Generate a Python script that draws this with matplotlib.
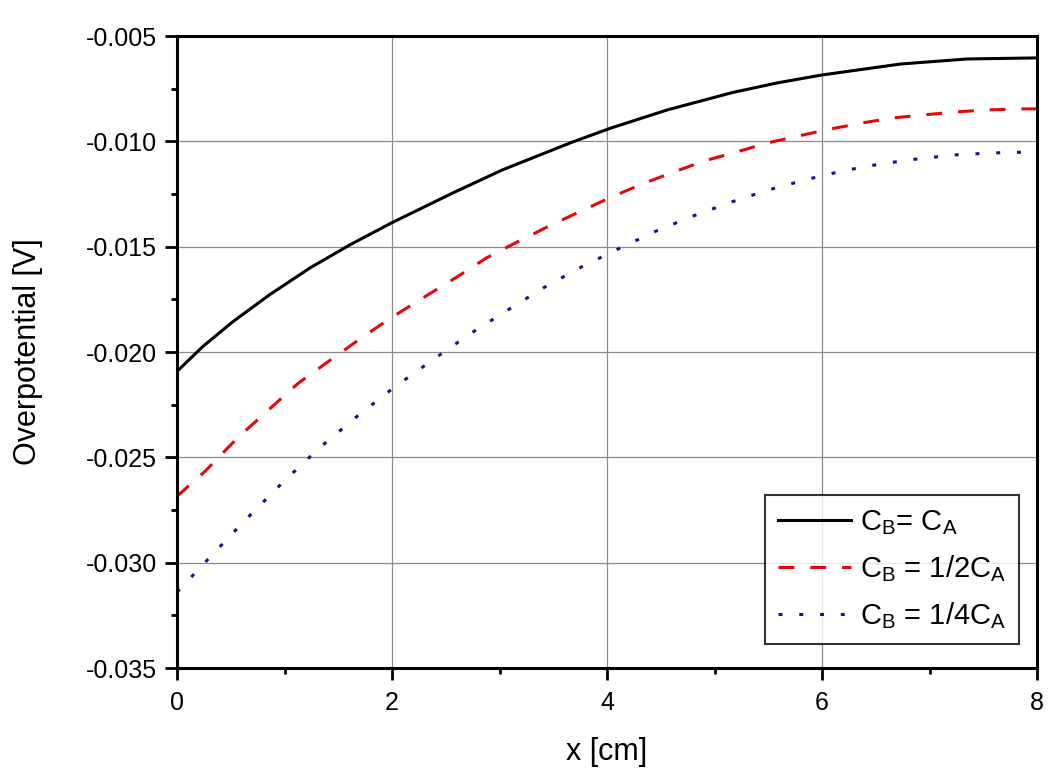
import matplotlib
matplotlib.use('Agg')
import matplotlib.pyplot as plt
from matplotlib.ticker import MultipleLocator, FormatStrFormatter

plt.rcParams['font.family'] = ['Liberation Sans', 'DejaVu Sans']
plt.rcParams['mathtext.default'] = 'regular'

# C_B = C_A
x_full = [0, 0.24, 0.52, 0.865, 1.24, 1.61, 2.0, 2.57, 3.03, 3.66, 4.03, 4.56, 5.17, 5.59,
          6.0, 6.73, 7.35, 8.0]
y_full = [-0.02092, -0.01974, -0.01856, -0.01727, -0.01600, -0.01491, -0.01386, -0.01244,
          -0.01135, -0.01007, -0.00938, -0.00851, -0.00768, -0.00722, -0.00685, -0.00633,
          -0.00609, -0.00604]
# C_B = 1/2 C_A
x_half = [0, 0.27, 0.558, 0.847, 1.126, 1.433, 1.721, 2.009, 2.307, 2.595, 2.884, 3.172,
          3.47, 3.767, 4.047, 4.335, 4.623, 4.912, 5.209, 5.498, 5.786, 6.084, 6.381, 6.66,
          6.958, 7.256, 7.535, 7.842, 8.0]
y_half = [-0.02685, -0.02562, -0.02410, -0.02277, -0.02149, -0.02036, -0.01931, -0.01832,
          -0.01737, -0.01647, -0.01552, -0.01476, -0.01400, -0.01329, -0.01263, -0.01201,
          -0.01145, -0.01092, -0.01050, -0.01007, -0.00974, -0.00941, -0.00912, -0.00889,
          -0.00874, -0.00860, -0.00851, -0.00846, -0.00846]
# C_B = 1/4 C_A
x_quarter = [0, 0.316, 0.642, 0.986, 1.321, 1.674, 2.019, 2.372, 2.716, 3.07, 3.414, 3.767,
             4.112, 4.465, 4.809, 5.163, 5.507, 5.851, 6.195, 6.549, 6.893, 7.247, 7.591, 8.0]
y_quarter = [-0.03140, -0.02969, -0.02794, -0.02618, -0.02457, -0.02306, -0.02168, -0.02040,
             -0.01917, -0.01803, -0.01694, -0.01595, -0.01509, -0.01424, -0.01353, -0.01287,
             -0.01230, -0.01182, -0.01140, -0.01107, -0.01083, -0.01064, -0.01055, -0.01050]

labels = [r'C$_{B}$= C$_{A}$', r'C$_{B}$ = 1/2C$_{A}$', r'C$_{B}$ = 1/4C$_{A}$']

fig = plt.figure(figsize=(10.56, 7.84), dpi=100)
ax = fig.add_axes([177 / 1056, 1 - 668 / 784, 860 / 1056, 632 / 784])

ax.plot(x_full, y_full, color='black', lw=2.2, label=labels[0])
ax.plot(x_half, y_half, color='#e00a0a', lw=2.2, linestyle=(0, (5.2, 5.2)), label=labels[1])
ax.plot(x_quarter, y_quarter, color='#14148c', lw=2.2, linestyle=(0, (1.3, 5.5)), label=labels[2])

ax.set_xlim(0, 8)
ax.set_ylim(-0.035, -0.005)
ax.xaxis.set_major_locator(MultipleLocator(2))
ax.xaxis.set_minor_locator(MultipleLocator(1))
ax.yaxis.set_major_locator(MultipleLocator(0.005))
ax.yaxis.set_minor_locator(MultipleLocator(0.0025))
ax.yaxis.set_major_formatter(FormatStrFormatter('%.3f'))

ax.grid(True, which='major', color='#8c8c8c', lw=0.9)
ax.set_axisbelow(True)
for s in ax.spines.values():
    s.set_linewidth(2.2)
ax.tick_params(which='major', direction='out', length=8.5, width=2, labelsize=18, pad=6)
ax.tick_params(axis='x', which='major', pad=8)
ax.tick_params(which='minor', direction='out', length=4, width=2)

ax.set_xlabel('x [cm]', fontsize=22, labelpad=16)
ax.set_ylabel('Overpotential [V]', fontsize=22, labelpad=31)

leg = ax.legend(loc='lower right', fontsize=21, frameon=True, fancybox=False,
                edgecolor='black', handlelength=2.5, handletextpad=0.3,
                labelspacing=0.55, borderpad=0.45, borderaxespad=0,
                bbox_to_anchor=((1019 - 177) / 860, (668 - 644) / 632))
leg.get_frame().set_linewidth(1.5)

fig.savefig('out.png', dpi=100)
